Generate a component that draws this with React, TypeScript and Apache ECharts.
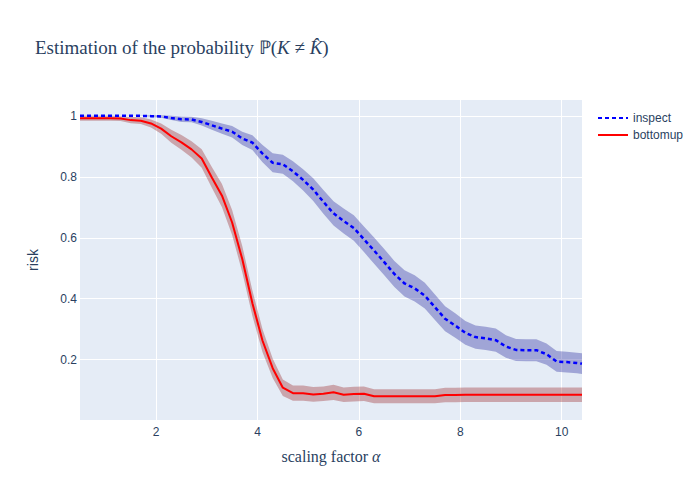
import React, { useEffect, useRef } from "react";
import * as echarts from "echarts";

const xs = [0.5, 0.7, 0.9, 1.1, 1.3, 1.5, 1.7, 1.9, 2.1, 2.3, 2.5, 2.7, 2.9, 3.1, 3.3, 3.5, 3.7, 3.9, 4.1, 4.3, 4.5, 4.7, 4.9, 5.1, 5.3, 5.5, 5.7, 5.9, 6.1, 6.3, 6.5, 6.7, 6.9, 7.1, 7.3, 7.5, 7.7, 7.9, 8.1, 8.3, 8.5, 8.7, 8.9, 9.1, 9.3, 9.5, 9.7, 9.9, 10.1, 10.3, 10.4];

const inspect = [1.0, 1.0, 1.0, 1.0, 1.0, 1.0, 1.0, 0.999, 0.998, 0.993, 0.989, 0.988, 0.98, 0.969, 0.958, 0.948, 0.926, 0.912, 0.876, 0.846, 0.841, 0.818, 0.79, 0.758, 0.718, 0.68, 0.655, 0.632, 0.595, 0.558, 0.52, 0.481, 0.45, 0.434, 0.41, 0.372, 0.334, 0.312, 0.288, 0.274, 0.27, 0.264, 0.243, 0.232, 0.231, 0.231, 0.218, 0.194, 0.192, 0.189, 0.187];

const inspectHalf = [0, 0, 0, 0, 0, 0, 0, 0.003, 0.004, 0.007, 0.009, 0.009, 0.012, 0.015, 0.017, 0.019, 0.022, 0.024, 0.028, 0.031, 0.031, 0.033, 0.035, 0.037, 0.039, 0.04, 0.041, 0.042, 0.042, 0.043, 0.043, 0.043, 0.043, 0.043, 0.042, 0.042, 0.041, 0.04, 0.039, 0.038, 0.038, 0.038, 0.037, 0.036, 0.036, 0.036, 0.035, 0.034, 0.034, 0.034, 0.034];

const bottomup = [0.992, 0.992, 0.992, 0.992, 0.991, 0.986, 0.984, 0.975, 0.958, 0.933, 0.913, 0.89, 0.86, 0.798, 0.738, 0.65, 0.53, 0.385, 0.262, 0.172, 0.108, 0.09, 0.09, 0.086, 0.088, 0.093, 0.085, 0.087, 0.088, 0.08, 0.08, 0.08, 0.08, 0.08, 0.08, 0.08, 0.084, 0.084, 0.085, 0.085, 0.085, 0.085, 0.085, 0.085, 0.085, 0.085, 0.085, 0.085, 0.085, 0.085, 0.085];

const bottomupHalf = [0.008, 0.008, 0.008, 0.008, 0.008, 0.01, 0.011, 0.013, 0.017, 0.021, 0.024, 0.027, 0.03, 0.034, 0.038, 0.041, 0.043, 0.042, 0.038, 0.032, 0.027, 0.025, 0.025, 0.024, 0.024, 0.025, 0.024, 0.024, 0.024, 0.023, 0.023, 0.023, 0.023, 0.023, 0.023, 0.023, 0.024, 0.024, 0.024, 0.024, 0.024, 0.024, 0.024, 0.024, 0.024, 0.024, 0.024, 0.024, 0.024, 0.024, 0.024];

const seriesNames = ["inspect", "bottomup"];

const TXT = "#2a3f5f";
const SANS = "Liberation Sans";
const SERIF = "Liberation Serif";

function bandSeries(mean: number[], half: number[], color: string) {
  const data = xs.map((x, i) => [x, mean[i] - half[i], mean[i] + half[i]]);
  return {
    type: "custom",
    silent: true,
    encode: { x: 0, y: [1, 2] },
    data,
    renderItem: (params: any, api: any) => {
      if (params.dataIndex !== 0) return null;
      const upper = data.map((d) => api.coord([d[0], d[2]]));
      const lowerPts = data.map((d) => api.coord([d[0], d[1]])).reverse();
      return {
        type: "polygon",
        shape: { points: upper.concat(lowerPts) },
        style: { fill: color, stroke: "none" },
      };
    },
  };
}

export default function App() {
  const ref = useRef<HTMLDivElement>(null);
  useEffect(() => {
    if (!ref.current) return;
    const chart = echarts.init(ref.current, null, { renderer: "svg" });
    const line = (m: number[]) => xs.map((x, i) => [x, m[i]]);
    chart.setOption({
      animation: false,
      backgroundColor: "#ffffff",
      title: {
        text: "Estimation of the probability ℙ({i|K} ≠ {i|K̂})",
        left: 30,
        top: 33,
        textStyle: {
          fontFamily: SERIF,
          fontSize: 19,
          fontWeight: "normal",
          color: TXT,
          rich: {
            i: { fontFamily: SERIF, fontSize: 19, fontStyle: "italic", color: TXT },
          },
        },
      },
      legend: {
        data: seriesNames,
        orient: "vertical",
        left: 592,
        top: 107,
        itemWidth: 30,
        itemHeight: 14,
        itemGap: 5,
        itemStyle: { opacity: 0 },
        textStyle: { fontFamily: SANS, fontSize: 12, color: TXT },
      },
      grid: { left: 80, right: 118, top: 100, bottom: 80, show: true, backgroundColor: "#E5ECF6", borderWidth: 0 },
      xAxis: {
        type: "value",
        min: 0.5,
        max: 10.4,
        splitNumber: 5,
        name: "scaling factor {i|α}",
        nameLocation: "middle",
        nameGap: 28,
        nameTextStyle: {
          fontFamily: SERIF,
          fontSize: 16,
          color: TXT,
          rich: { i: { fontFamily: SERIF, fontSize: 16, fontStyle: "italic", color: TXT } },
        },
        axisLine: { show: false },
        axisTick: { show: false },
        axisLabel: { showMinLabel: false, showMaxLabel: false, margin: 6, fontFamily: SANS, fontSize: 12, color: TXT },
        splitLine: { show: true, showMinLine: false, showMaxLine: false, lineStyle: { color: "#ffffff", width: 1 } },
      },
      yAxis: {
        type: "value",
        min: 0.002,
        max: 1.052,
        splitNumber: 5,
        name: "risk",
        nameLocation: "middle",
        nameGap: 40,
        nameTextStyle: { fontFamily: SANS, fontSize: 14, color: TXT },
        axisLine: { show: false },
        axisTick: { show: false },
        axisLabel: {
          showMinLabel: false,
          showMaxLabel: false,
          margin: 3,
          fontFamily: SANS,
          fontSize: 12,
          color: TXT,
          formatter: (v: number) => String(Math.round(v * 10) / 10),
        },
        splitLine: { show: true, showMinLine: false, showMaxLine: false, lineStyle: { color: "#ffffff", width: 1 } },
      },
      series: [
        bandSeries(inspect, inspectHalf, "rgba(0,0,139,0.3)"),
        bandSeries(bottomup, bottomupHalf, "rgba(139,0,0,0.3)"),
        {
          type: "line",
          name: "inspect",
          symbol: "none",
          data: line(inspect),
          itemStyle: { color: "#0000ff" },
          lineStyle: { color: "#0000ff", width: 2.5, type: [4, 3] },
        },
        {
          type: "line",
          name: "bottomup",
          symbol: "none",
          data: line(bottomup),
          itemStyle: { color: "#ff0000" },
          lineStyle: { color: "#ff0000", width: 2 },
        },
      ],
    });
    return () => chart.dispose();
  }, []);
  return <div ref={ref} style={{ width: 700, height: 500, position: "absolute", left: 0, top: 0 }} />;
}
